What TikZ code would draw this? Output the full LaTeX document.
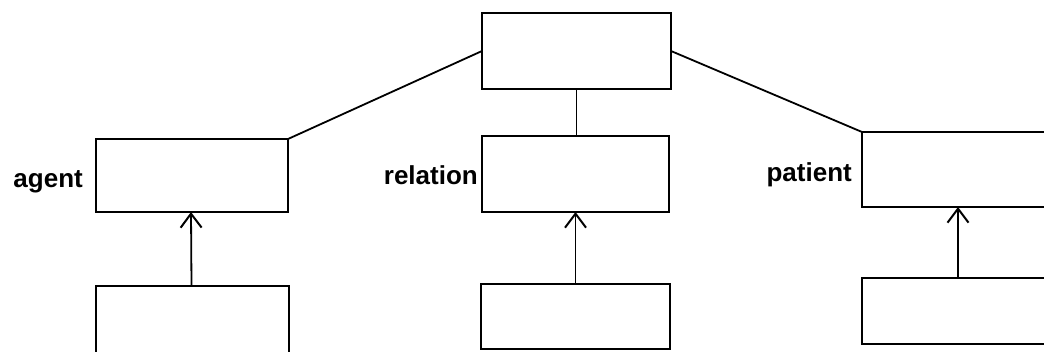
\documentclass[tikz,border=0pt]{standalone}
\usepackage{fontspec}
\setmainfont{Liberation Sans}
\usetikzlibrary{arrows.meta}
\begin{document}
\begin{tikzpicture}[x=1pt,y=1pt,
  frame/.style={draw=black, line width=2pt, inner sep=0pt, outer sep=0pt},
  link/.style={draw=black, line width=1.8pt},
  isa/.style={draw=black, line width=1.8pt, -{Straight Barb[length=14pt,width=21pt,line width=2pt]}},
  role/.style={font=\fontsize{26}{30}\selectfont\bfseries, inner sep=0pt, anchor=base east}]
  \useasboundingbox (0,0) rectangle (1044,351);
  \clip (0,0) rectangle (1044,351);
  % upper level: event frame and its three role frames
  \node[frame, minimum width=189pt, minimum height=76pt] (event) at (576.5,300) {};
  \node[frame, minimum width=192pt, minimum height=73pt] (agent) at (192,175.5) {};
  \node[frame, minimum width=187pt, minimum height=76pt] (relation) at (575.5,177) {};
  \node[frame, minimum width=192pt, minimum height=75pt] (patient) at (958,181.5) {};
  % lower level: fillers
  \node[frame, minimum width=193pt, minimum height=71pt] (agentfill) at (192.5,29.5) {};
  \node[frame, minimum width=189pt, minimum height=65pt] (relationfill) at (575.5,34.5) {};
  \node[frame, minimum width=192pt, minimum height=66pt] (patientfill) at (958,40) {};
  % role labels
  \node[role] (agentlbl) at ([xshift=-13pt,yshift=-12pt]agent.west) {agent};
  \node[role] (relationlbl) at ([xshift=-4pt,yshift=-11pt]relation.west) {relation};
  \node[role] (patientlbl) at ([xshift=-10pt,yshift=-12pt]patient.west) {patient};
  % structure links
  \draw[link] (event.west) -- (agent.north east);
  \draw[link] (event.south) -- (event.south |- relation.north);
  \draw[link] (event.east) -- (patient.north west);
  % filler arrows
  \draw[isa] ([xshift=-1pt]agentfill.north) -- ([xshift=-1pt]agent.south);
  \draw[isa] (relationfill.north) -- (relation.south);
  \draw[isa] (patientfill.north) -- (patient.south);
\end{tikzpicture}
\end{document}
